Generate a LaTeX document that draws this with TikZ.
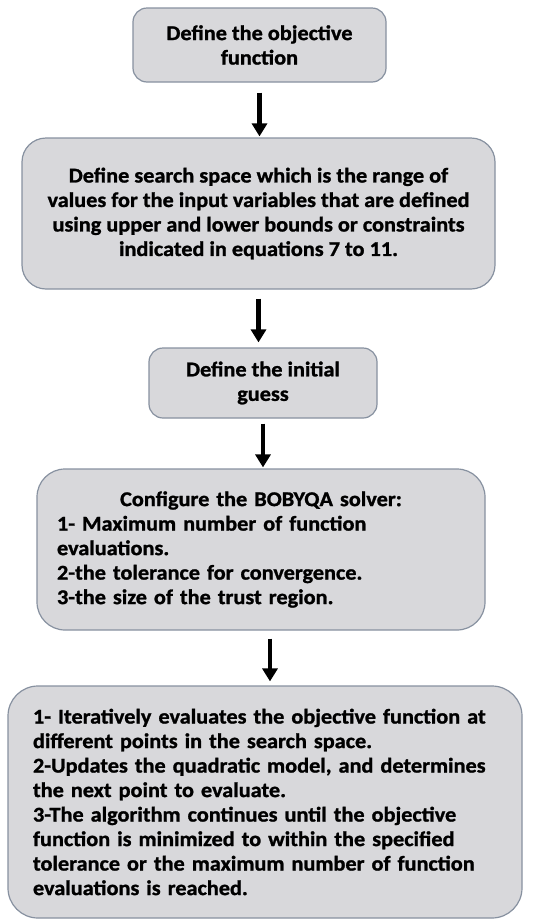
\documentclass[tikz,border=0pt]{standalone}
\usepackage{fontspec}
\setmainfont[FakeStretch=1.06,BoldFeatures={FakeBold=1.2}]{Carlito}
\usetikzlibrary{arrows.meta}
\definecolor{boxfill}{RGB}{216,216,219}
\definecolor{boxline}{RGB}{135,145,160}

\begin{document}
\begin{tikzpicture}[x=1pt,y=-1pt,
    stepbox/.style={draw=boxline, fill=boxfill, line width=1.2pt, rounded corners=#1,
        font=\fontsize{21}{24.5}\selectfont\bfseries, inner sep=0pt},
    stepbox/.default=14pt,
    flow/.style={line width=4.5pt, -{Triangle[width=15pt,length=13pt]}}]
    \useasboundingbox (0,0) rectangle (538,919);

    \node[stepbox, minimum width=253pt, minimum height=74pt, align=center](objective) at (259.5,45)
        {Define the objective\\function};
    \node[stepbox=24pt, minimum width=473pt, minimum height=151pt, align=center](space) at (258.5,213.5)
        {Define search space which is the range of\\values for the input variables that are defined\\using upper and lower bounds or constraints\\indicated in equations 7 to 11.};
    \node[stepbox, minimum width=228pt, minimum height=70pt, align=center](guess) at (263,383)
        {Define the initial\\guess};
    \node[stepbox=28pt, minimum width=448pt, minimum height=161pt, text width=408pt, align=left](solver) at (261,549.5)
        {\makebox[\linewidth][c]{Configure the BOBYQA solver:}\\1- Maximum number of function\\evaluations.\\2-the tolerance for convergence.\\3-the size of the trust region.};
    \node[stepbox=30pt, minimum width=514pt, minimum height=232pt, text width=464pt, align=left](evaluate) at (265,802)
        {1- Iteratively evaluates the objective function at\\different points in the search space.\\2-Updates the quadratic model, and determines\\the next point to evaluate.\\3-The algorithm continues until the objective\\function is minimized to within the specified\\tolerance or the maximum number of function\\evaluations is reached.};

    \draw[flow, shorten <=10pt, shorten >=1pt] (objective.south) -- (objective.south |- space.north);
    \draw[flow, shorten <=9pt, shorten >=5pt] (space.south) -- (space.south |- guess.north);
    \draw[flow, shorten <=5pt, shorten >=1pt] (guess.south) -- (guess.south |- solver.north);
    \draw[flow, shorten <=8pt, shorten >=4pt] ([xshift=9pt]solver.south) -- ([xshift=9pt]solver.south |- evaluate.north);
\end{tikzpicture}
\end{document}
